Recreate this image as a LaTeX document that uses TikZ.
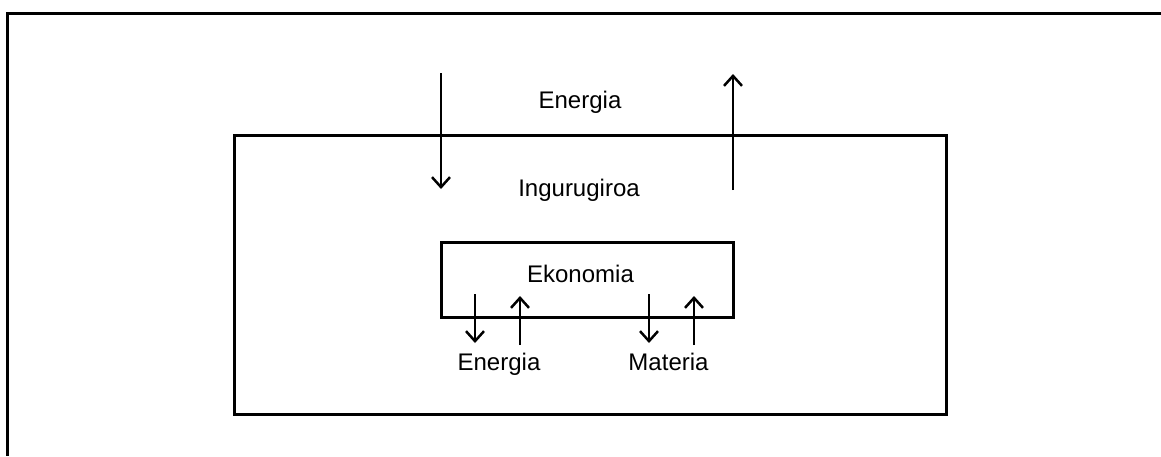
\documentclass[tikz,border=0pt]{standalone}
\usepackage{fontspec}
\setmainfont{Liberation Sans}
\usetikzlibrary{arrows.meta}
\begin{document}
\begin{tikzpicture}[x=1pt,y=-1pt,
  boxframe/.style={draw, line width=3pt, inner sep=0pt},
  flow/.style={line width=2.5pt, -{Straight Barb[length=10pt,width=18pt,line width=2.5pt]}},
  lbl/.style={font=\fontsize{24}{28}\selectfont, anchor=base, inner sep=0pt}]
\useasboundingbox (0,0) rectangle (1161,456);
% cropped outer frame
\coordinate (ftr) at (1161,13);
\coordinate (ftl) at (7,13);
\coordinate (fbl) at (7,456);
\draw[line width=3pt] (ftr) -- (ftl) -- (fbl);
% boxes
\node[boxframe, minimum width=712pt, minimum height=279pt] (env) at (590,274.5) {};
\node[boxframe, minimum width=292pt, minimum height=75pt] (eco) at (587,279.5) {};
% labels
\node[lbl] (en1) at (580,108) {Energia};
\node[lbl] (ing) at (579,196) {Ingurugiroa};
\node[lbl] (ekn) at (580.5,282) {Ekonomia};
\node[lbl] (en2) at (499,370) {Energia};
\node[lbl] (mat) at (668.5,370) {Materia};
% arrow end points
\coordinate (a1s) at (441,73);  \coordinate (a1e) at (441,189);
\coordinate (a2s) at (733,190); \coordinate (a2e) at (733,74);
\coordinate (b1s) at (475,294); \coordinate (b1e) at (475,343);
\coordinate (b2s) at (520,345); \coordinate (b2e) at (520,296);
\coordinate (b3s) at (649,294); \coordinate (b3e) at (649,343);
\coordinate (b4s) at (694,345); \coordinate (b4e) at (694,296);
\draw[flow] (a1s) -- (a1e);
\draw[flow] (a2s) -- (a2e);
\draw[flow] (b1s) -- (b1e);
\draw[flow] (b2s) -- (b2e);
\draw[flow] (b3s) -- (b3e);
\draw[flow] (b4s) -- (b4e);
\end{tikzpicture}
\end{document}
